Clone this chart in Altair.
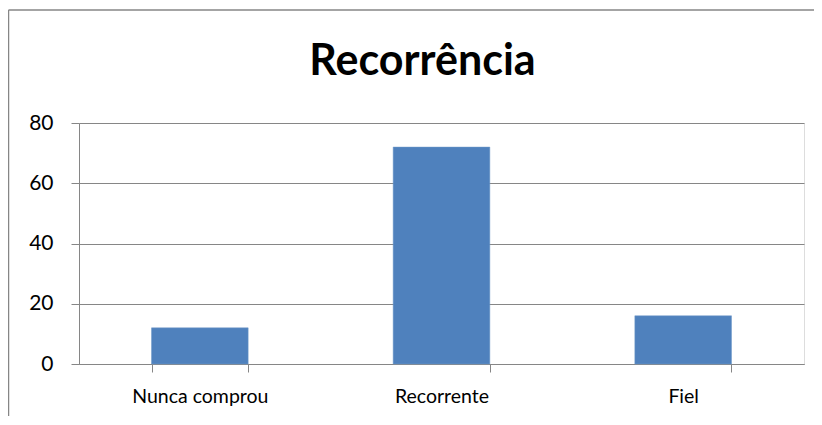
import altair as alt
import pandas as pd

categories = ["Nunca comprou", "Recorrente", "Fiel"]
values = [12, 72, 16]
y_ticks = [0, 20, 40, 60, 80]
title_text = "Recorrência"

df = pd.DataFrame({"cat": categories, "val": values})

FONT = "Lato"
GRAY = "#868686"

bars = alt.Chart(df).mark_bar(color="#4F81BD", stroke="#6F98C8", strokeWidth=0.5).encode(
    x=alt.X("cat:N", sort=categories, title=None,
            scale=alt.Scale(paddingInner=0.6, paddingOuter=0.3),
            axis=alt.Axis(labelAngle=0, tickBand="extent", tickSize=8, tickColor=GRAY,
                          domainColor=GRAY, labelFontSize=19.5, labelFont=FONT,
                          labelColor="#000000", labelPadding=15, grid=False)),
    y=alt.Y("val:Q", title=None,
            scale=alt.Scale(domain=[0, 80], nice=False),
            axis=alt.Axis(values=y_ticks, tickSize=8, tickColor=GRAY, domainColor=GRAY,
                          gridColor=GRAY, gridOpacity=1, labelFontSize=21, labelFont=FONT,
                          labelColor="#000000", labelPadding=18)),
)

frame = alt.Data(values=[{}])
top_line = alt.Chart(frame).mark_rule(color=GRAY, strokeWidth=1.5).encode(
    x=alt.value(-70.5), x2=alt.value(820), y=alt.value(-113)
)
left_line = alt.Chart(frame).mark_rule(color=GRAY, strokeWidth=1.5).encode(
    x=alt.value(-70.5), y=alt.value(-113), y2=alt.value(420)
)

chart = alt.layer(bars, top_line, left_line).properties(
    width=725, height=241,
    title=alt.TitleParams(title_text, font=FONT, fontSize=43, fontWeight="bold",
                          color="#000000", anchor="middle", frame="group",
                          baseline="alphabetic", offset=-109, dx=-19),
    autosize=alt.AutoSizeParams(type="none"),
    padding={"left": 71, "top": 115, "right": 10, "bottom": 52},
).configure_view(stroke=None).configure(background="#ffffff")

chart.save("out.html", embed_options={"renderer": "svg", "actions": False})
